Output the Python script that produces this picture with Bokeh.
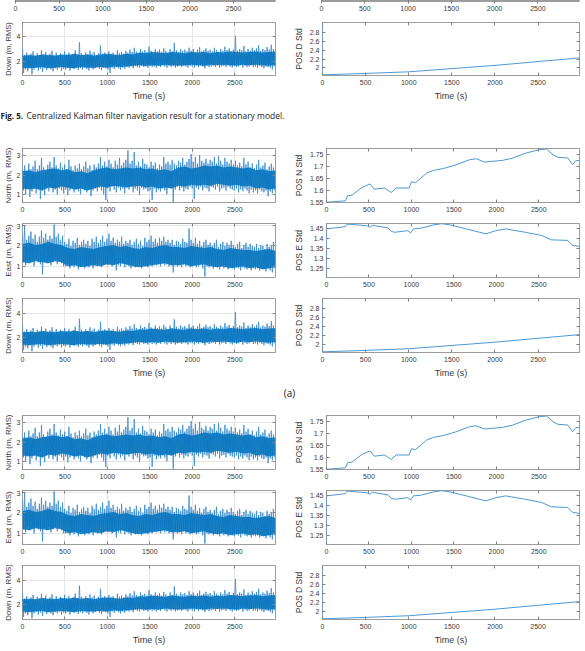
import numpy as np
from bokeh.plotting import figure
from bokeh.layouts import column, row
from bokeh.models import Range1d, FixedTicker, CustomJSTickFormatter, Label, LinearAxis
from bokeh.embed import file_html
from bokeh.resources import INLINE

# ---------------- data ----------------
T_END = 2980
time_ticks = [0, 500, 1000, 1500, 2000, 2500]

# spike extremes (upper / lower) of the 1 Hz RMS noise, read across the time axis
north_hi = [2.35, 2.5, 2.2, 2.6, 2.3, 2.45, 2.75, 2.3, 2.5, 2.9,
            2.4, 2.25, 2.55, 2.7, 2.4, 2.95, 2.5, 2.35, 2.65, 2.4,
            2.55, 2.3, 2.8, 2.45, 2.25, 2.5, 2.35, 2.6, 2.3, 2.45,
            2.7, 2.35, 2.5, 2.25, 2.55, 2.4, 2.6, 2.95, 2.5, 2.7,
            2.45, 2.8, 2.6, 2.4, 2.75, 2.55, 2.9, 2.5, 2.65, 2.8,
            3.3, 2.6, 2.75, 3.2, 2.5, 2.7, 2.45, 2.85, 2.6, 2.55,
            2.4, 2.7, 2.5, 2.65, 2.35, 2.55, 2.45, 2.95, 2.6, 2.7,
            2.55, 2.8, 2.6, 2.5, 2.75, 2.65, 2.9, 2.55, 2.7, 2.85,
            3.1, 2.7, 2.95, 2.6, 3.05, 2.75, 2.65, 2.85, 2.6, 2.8,
            2.7, 2.95, 2.6, 3.0, 2.75, 2.55, 2.9, 2.7, 2.6, 2.8,
            2.55, 2.75, 2.5, 2.65, 2.45, 2.9, 2.55, 2.7, 2.4, 2.6,
            2.35, 2.55, 2.8, 2.4, 2.5, 2.65, 2.3, 2.45, 2.6, 2.4]
north_lo = [1.2, 1.0, 1.3, 0.85, 1.15, 1.3, 1.05, 1.25, 0.75, 1.2,
            0.95, 1.3, 1.15, 1.35, 1.1, 1.25, 1.0, 1.3, 1.2, 1.05,
            1.25, 0.95, 1.2, 1.3, 1.1, 1.25, 1.15, 1.0, 1.3, 1.2,
            1.1, 1.25, 0.9, 1.2, 1.3, 1.15, 1.35, 1.2, 1.0, 0.7,
            1.3, 1.15, 1.4, 1.25, 1.1, 1.35, 1.2, 1.3, 1.05, 1.35,
            1.25, 1.4, 1.1, 1.3, 1.2, 0.95, 1.35, 1.25, 1.3, 1.15,
            1.2, 0.7, 1.3, 1.1, 1.25, 1.15, 1.3, 1.2, 1.0, 1.35,
            1.3, 0.6, 1.25, 1.4, 1.2, 1.35, 1.15, 1.3, 1.25, 1.4,
            1.3, 0.75, 1.35, 1.25, 1.4, 1.2, 1.35, 1.3, 1.15, 1.4,
            1.35, 1.25, 1.4, 1.15, 1.3, 1.35, 1.2, 1.4, 1.3, 1.25,
            1.2, 1.3, 1.1, 1.25, 1.15, 1.3, 1.2, 1.05, 1.25, 1.1,
            1.2, 1.05, 1.25, 1.15, 1.1, 1.2, 0.9, 1.15, 1.05, 1.2]
# dense core band of the same noise (upper / lower edge)
north_core_hi = [2.2, 2.25, 2.15, 2.25, 2.3, 2.35, 2.25, 2.3, 2.15, 2.2,
                 2.1, 2.25, 2.35, 2.4, 2.3, 2.35, 2.4, 2.35, 2.4, 2.3,
                 2.35, 2.25, 2.3, 2.2, 2.4, 2.45, 2.35, 2.4, 2.5, 2.45,
                 2.5, 2.4, 2.45, 2.4, 2.35, 2.4, 2.25, 2.3, 2.2, 2.25]
north_core_lo = [1.3, 1.25, 1.3, 1.2, 1.35, 1.3, 1.4, 1.35, 1.25, 1.3,
                 1.2, 1.3, 1.4, 1.35, 1.45, 1.4, 1.35, 1.4, 1.45, 1.35,
                 1.4, 1.3, 1.35, 1.3, 1.45, 1.4, 1.5, 1.45, 1.5, 1.45,
                 1.55, 1.5, 1.45, 1.5, 1.4, 1.45, 1.3, 1.35, 1.25, 1.3]

east_hi = [2.6, 3.0, 2.3, 2.5, 2.7, 2.35, 2.55, 2.2, 2.45, 2.75,
           2.4, 2.6, 2.3, 2.5, 2.35, 3.05, 2.45, 2.6, 2.3, 2.5,
           2.2, 2.1, 2.35, 2.0, 2.25, 2.15, 2.4, 2.05, 2.2, 2.3,
           2.1, 2.25, 2.0, 2.35, 2.2, 2.45, 2.15, 2.3, 2.5, 2.2,
           2.35, 2.6, 2.25, 2.4, 2.15, 2.3, 2.2, 2.45, 2.1, 2.25,
           2.15, 2.3, 2.05, 2.2, 2.35, 2.1, 2.25, 2.0, 2.4, 2.2,
           2.3, 2.5, 2.2, 2.35, 2.15, 2.4, 2.25, 2.45, 2.2, 2.3,
           2.15, 2.3, 2.05, 2.25, 2.2, 2.1, 2.35, 2.2, 2.15, 2.85,
           2.3, 2.15, 2.4, 2.1, 2.25, 2.0, 2.2, 2.3, 2.05, 2.15,
           2.0, 2.15, 2.3, 1.95, 2.1, 2.2, 2.0, 2.15, 2.05, 2.25,
           2.05, 1.95, 2.1, 2.2, 1.9, 2.05, 2.15, 1.95, 2.1, 2.0,
           1.95, 2.1, 1.9, 2.05, 2.0, 1.85, 2.1, 1.95, 2.05, 2.2]
east_lo = [1.2, 1.05, 1.3, 1.15, 1.25, 1.0, 1.3, 1.2, 1.1, 0.6,
           1.25, 1.15, 1.3, 1.05, 1.2, 1.3, 1.1, 1.25, 1.15, 1.0,
           1.0, 1.1, 0.9, 1.05, 0.95, 1.1, 0.85, 1.0, 1.05, 0.9,
           1.0, 0.95, 1.1, 0.9, 1.05, 1.0, 1.15, 0.95, 1.05, 1.1,
           1.05, 1.15, 1.0, 1.1, 0.8, 1.05, 1.0, 1.15, 0.95, 1.05,
           1.0, 0.9, 1.05, 0.95, 1.0, 1.1, 0.9, 1.05, 1.0, 0.95,
           1.1, 1.0, 1.15, 1.05, 1.1, 1.0, 1.15, 1.05, 1.1, 1.0,
           1.05, 0.7, 1.1, 1.0, 1.05, 0.95, 1.1, 1.0, 1.05, 0.95,
           1.0, 1.05, 0.95, 1.0, 1.1, 0.9, 0.5, 1.0, 0.95, 1.05,
           0.9, 1.0, 0.95, 0.85, 1.0, 0.9, 0.95, 0.85, 1.0, 0.9,
           0.85, 0.95, 0.9, 0.8, 0.95, 0.9, 0.85, 0.95, 0.8, 0.9,
           0.85, 0.9, 0.8, 0.9, 0.85, 0.75, 0.9, 0.8, 0.7, 0.9]
east_core_hi = [2.1, 2.15, 2.05, 2.1, 2.2, 2.1, 2.05, 1.9, 1.85, 1.95,
                1.9, 1.85, 1.95, 2.0, 2.05, 1.95, 2.0, 1.9, 1.85, 1.95,
                1.9, 2.0, 2.05, 1.95, 1.95, 1.9, 2.0, 1.95, 1.9, 1.95,
                1.85, 1.8, 1.9, 1.85, 1.8, 1.8, 1.75, 1.8, 1.85, 1.75]
east_core_lo = [1.2, 1.15, 1.25, 1.2, 1.15, 1.25, 1.2, 1.0, 1.05, 0.95,
                1.0, 1.05, 1.0, 1.1, 1.05, 1.15, 1.1, 1.0, 0.95, 1.0,
                1.05, 1.1, 1.15, 1.05, 1.05, 1.1, 1.0, 1.05, 1.1, 1.0,
                0.95, 1.0, 0.9, 0.95, 1.0, 0.9, 0.95, 0.85, 0.9, 0.95]

down_hi = [3.1, 2.5, 2.7, 2.4, 2.6, 2.8, 2.45, 2.65, 2.5, 2.9,
           2.55, 2.75, 2.4, 2.6, 2.85, 2.5, 2.7, 2.45, 2.65, 2.5,
           2.8, 2.55, 2.7, 2.45, 2.6, 2.9, 2.5, 3.55, 2.65, 2.5,
           2.7, 2.55, 2.85, 2.6, 2.75, 2.5, 2.65, 3.3, 2.6, 2.7,
           2.55, 2.8, 2.6, 2.7, 2.5, 2.9, 2.65, 2.75, 2.6, 2.85,
           2.7, 2.95, 2.75, 3.1, 2.8, 2.65, 3.0, 2.8, 2.9, 2.75,
           3.2, 2.85, 2.7, 3.0, 2.8, 2.95, 2.75, 3.05, 2.85, 2.7,
           3.0, 2.8, 3.5, 2.9, 2.75, 3.0, 2.85, 2.95, 2.8, 3.1,
           2.85, 3.0, 2.75, 2.95, 3.15, 2.8, 2.9, 3.05, 2.85, 2.95,
           2.8, 3.1, 2.9, 2.75, 3.0, 2.85, 3.2, 2.9, 3.05, 2.8,
           2.95, 4.1, 2.85, 3.0, 2.9, 3.25, 2.8, 3.0, 2.85, 3.1,
           2.9, 3.05, 3.3, 2.85, 3.0, 2.9, 3.15, 2.95, 3.35, 3.0]
down_lo = [1.0, 1.3, 1.15, 1.4, 0.9, 1.3, 1.45, 1.2, 1.35, 1.1,
           1.4, 1.25, 1.45, 1.3, 1.15, 1.4, 1.3, 1.45, 1.2, 1.35,
           1.3, 1.45, 1.2, 1.4, 1.35, 1.5, 1.25, 1.4, 1.3, 1.45,
           1.35, 1.2, 1.45, 1.3, 1.4, 1.5, 1.35, 1.25, 1.45, 1.4,
           1.3, 1.0, 1.45, 1.35, 1.5, 1.4, 1.3, 1.45, 1.35, 1.5,
           1.45, 1.55, 1.4, 1.6, 1.5, 1.45, 1.6, 1.5, 1.55, 1.45,
           1.6, 1.5, 1.55, 1.45, 1.6, 1.5, 1.65, 1.55, 1.45, 1.6,
           1.5, 1.6, 1.45, 1.55, 1.65, 1.5, 1.6, 1.55, 1.45, 1.6,
           1.55, 1.45, 1.6, 1.5, 1.65, 1.55, 1.4, 1.6, 1.5, 1.55,
           1.6, 1.5, 1.65, 1.45, 1.55, 1.6, 1.5, 1.65, 1.55, 1.45,
           1.6, 1.5, 1.55, 1.65, 1.45, 1.6, 1.5, 1.55, 1.65, 1.5,
           1.55, 1.45, 1.6, 1.5, 1.4, 1.55, 1.5, 1.45, 1.3, 1.55]
down_core_hi = [2.45, 2.5, 2.45, 2.55, 2.5, 2.45, 2.55, 2.5, 2.6, 2.5,
                2.55, 2.45, 2.55, 2.6, 2.55, 2.5, 2.6, 2.55, 2.7, 2.65,
                2.75, 2.7, 2.65, 2.75, 2.7, 2.65, 2.75, 2.7, 2.75, 2.65,
                2.75, 2.7, 2.8, 2.75, 2.7, 2.75, 2.8, 2.7, 2.75, 2.8]
down_core_lo = [1.45, 1.4, 1.45, 1.5, 1.4, 1.45, 1.5, 1.45, 1.4, 1.5,
                1.45, 1.45, 1.5, 1.45, 1.55, 1.5, 1.55, 1.6, 1.65, 1.6,
                1.65, 1.6, 1.7, 1.65, 1.6, 1.65, 1.7, 1.65, 1.6, 1.7,
                1.65, 1.7, 1.65, 1.6, 1.7, 1.65, 1.7, 1.65, 1.6, 1.65]

posn_t = [0, 223, 250, 300, 416, 512, 562, 685, 762, 820, 974, 1000, 1050,
          1185, 1262, 1378, 1532, 1686, 1763, 1860, 2072, 2187, 2341, 2495,
          2591, 2668, 2726, 2841, 2899, 2938, 2980]
posn_v = [1.550, 1.556, 1.578, 1.580, 1.612, 1.627, 1.605, 1.610, 1.591, 1.610,
          1.610, 1.636, 1.633, 1.674, 1.684, 1.692, 1.708, 1.729, 1.733, 1.719,
          1.726, 1.735, 1.756, 1.770, 1.774, 1.750, 1.739, 1.736, 1.708, 1.725,
          1.726]

pose_t = [0, 0, 223, 242, 473, 512, 539, 724, 762, 801, 955, 993, 1024, 1108,
          1262, 1358, 1455, 1647, 1801, 1878, 1994, 2110, 2341, 2533, 2649,
          2841, 2899, 2980]
pose_v = [1.206, 1.450, 1.461, 1.474, 1.466, 1.458, 1.468, 1.455, 1.438, 1.433,
          1.441, 1.430, 1.450, 1.453, 1.470, 1.476, 1.470, 1.450, 1.433, 1.425,
          1.441, 1.450, 1.433, 1.417, 1.395, 1.392, 1.367, 1.362]

posd_t = [0, 0, 500, 1000, 1500, 2000, 2500, 2980]
posd_v = [3.02, 1.845, 1.876, 1.913, 1.985, 2.057, 2.143, 2.224]

north_ticks = [1, 2, 3]
east_ticks = [1, 2, 3]
down_ticks = [2, 4]
posn_ticks = [1.55, 1.6, 1.65, 1.7, 1.75]
pose_ticks = [1.25, 1.3, 1.35, 1.4, 1.45]
posd_ticks = [2, 2.2, 2.4, 2.6, 2.8]

north_lim = (0.57, 3.39)
east_lim = (0.45, 3.10)
down_lim = (0.80, 5.20)
posn_lim = (1.549, 1.776)
pose_lim = (1.206, 1.477)
posd_lim = (1.83, 3.02)

caption_bold = "Fig. 5."
caption_text = "Centralized Kalman filter navigation result for a stationary model."

# ---------------- style ----------------
FONT = "Liberation Sans"
CAP_FONT = "Open Sans"
BLUE = "#0072BD"
SPIKE = "#3d8ed0"
LBLUE = "#4d98d3"
BOX = "#9c9c9c"
TXT = "#3a3a3a"

LW, RW = 290, 295           # column widths
L_BL, L_BR = 17, 15
R_BL, R_BR = 31, 6


def zigzag(hi, lo):
    n = min(len(hi), len(lo))
    dt = T_END / n
    t = np.arange(n) * dt
    xs = np.column_stack([t, t + dt / 2]).ravel()
    ys = np.column_stack([np.array(hi[:n]), np.array(lo[:n])]).ravel()
    return xs, ys


def band_x(vals):
    return np.arange(len(vals)) * (T_END / (len(vals) - 1))


def style_axis(ax, labels=True):
    ax.major_tick_in = 3
    ax.major_tick_out = 0
    ax.minor_tick_line_color = None
    ax.axis_line_color = None
    ax.major_tick_line_color = "#808080"
    ax.major_tick_line_width = 1
    ax.major_label_text_font = FONT
    ax.major_label_text_font_size = "7px" if labels else "0px"
    ax.major_label_text_color = TXT
    ax.major_label_standoff = 3 if labels else 0
    ax.axis_label_text_font = FONT
    ax.axis_label_text_font_style = "normal"
    ax.axis_label_text_color = TXT


def make_fig(w, h, bl, br, bb, ylim, yticks, ylabel=None, xlabel=None,
             grid=False, yfmt=False, show_y=True, ylabel_size=None):
    p = figure(width=w, height=h, output_backend="svg", toolbar_location=None,
               x_range=Range1d(0, T_END), y_range=Range1d(*ylim),
               min_border_left=bl, min_border_right=br,
               min_border_top=0, min_border_bottom=bb)
    p.outline_line_color = BOX
    p.outline_line_width = 1
    p.background_fill_color = "white"
    p.border_fill_color = "white"
    xt = FixedTicker(ticks=time_ticks)
    yt = FixedTicker(ticks=yticks)
    xa = p.xaxis[0]
    ya = p.yaxis[0]
    xa.ticker = xt
    ya.ticker = yt
    style_axis(xa)
    style_axis(ya)
    xa.major_label_standoff = 4
    ya.major_label_standoff = 2 if not yfmt else 3
    if yfmt:
        ya.formatter = CustomJSTickFormatter(
            code="return String(Math.round(tick*1000)/1000);")
    if ylabel:
        ya.axis_label = ylabel
        ya.axis_label_text_font_size = ylabel_size or ("8px" if not yfmt else "8.5px")
        ya.axis_label_standoff = 1 if not yfmt else 3
    if xlabel:
        xa.axis_label = xlabel
        xa.axis_label_text_font_size = "9px"
        xa.axis_label_standoff = 3
    if not show_y:
        ya.visible = False
    # mirrored ticks on top and right (no labels)
    top = LinearAxis(ticker=xt)
    style_axis(top, labels=False)
    top.major_label_text_alpha = 0
    p.add_layout(top, "above")
    if show_y:
        rt = LinearAxis(ticker=yt)
        style_axis(rt, labels=False)
        rt.major_label_text_alpha = 0
        p.add_layout(rt, "right")
    if grid:
        p.xgrid.ticker = xt
        p.ygrid.ticker = yt
        p.xgrid.grid_line_color = "#e6e6e6"
        p.ygrid.grid_line_color = "#e6e6e6"
        p.xgrid.grid_line_width = 1
        p.ygrid.grid_line_width = 1
    else:
        p.xgrid.visible = False
        p.ygrid.visible = False
    return p


def noise_fig(hi, lo, core_hi, core_lo, h, bb, ylim, yticks, ylabel,
              xlabel=None, bl=L_BL, ylabel_size=None):
    p = make_fig(LW, h, bl, L_BR, bb, ylim, yticks, ylabel=ylabel,
                 xlabel=xlabel, grid=True, ylabel_size=ylabel_size)
    xs, ys = zigzag(hi, lo)
    p.line(xs, ys, line_color=SPIKE, line_width=1.0, line_alpha=0.85)
    bx = band_x(core_hi)
    p.varea(x=bx, y1=core_lo, y2=core_hi, fill_color=BLUE, fill_alpha=0.85)
    return p


def std_fig(t, v, h, bb, ylim, yticks, ylabel, xlabel=None):
    p = make_fig(RW, h, R_BL, R_BR, bb, ylim, yticks, ylabel=ylabel,
                 xlabel=xlabel, yfmt=True)
    p.line(t, v, line_color=LBLUE, line_width=1)
    return p


def text_fig(h, labels):
    p = figure(width=585, height=h, output_backend="svg", toolbar_location=None,
               x_range=Range1d(0, 585), y_range=Range1d(0, h),
               x_axis_location=None, y_axis_location=None, min_border=0)
    p.grid.visible = False
    p.outline_line_color = None
    p.background_fill_color = "white"
    p.border_fill_color = "white"
    for lb in labels:
        p.add_layout(lb)
    return p


# ---------------- top (partial) section ----------------
top_e_left = make_fig(LW, 22, 15, L_BR, 21, east_lim, east_ticks, show_y=False)
top_e_right = make_fig(RW, 22, R_BL, R_BR, 21, pose_lim, pose_ticks, show_y=False)

top_d_left = noise_fig(down_hi, down_lo, down_core_hi, down_core_lo, 82, 29,
                       down_lim, down_ticks, "Down (m, RMS)", xlabel="Time (s)",
                       bl=15, ylabel_size="7.5px")
top_d_right = std_fig(posd_t, posd_v, 82, 29, posd_lim, posd_ticks,
                      "POS D Std", xlabel="Time (s)")

caption = text_fig(44, [
    Label(x=0, y=33, text=caption_bold, text_align="left",
          text_baseline="middle", text_font=CAP_FONT, text_font_style="bold",
          text_font_size="8px", text_color="#222222"),
    Label(x=26, y=33, text=caption_text, text_align="left",
          text_baseline="middle", text_font=CAP_FONT, text_font_size="8.5px",
          text_color="#222222"),
])


def section(last_h):
    n_l = noise_fig(north_hi, north_lo, north_core_hi, north_core_lo, 75, 21,
                    north_lim, north_ticks, "North (m, RMS)")
    n_r = std_fig(posn_t, posn_v, 75, 21, posn_lim, posn_ticks, "POS N Std")
    e_l = noise_fig(east_hi, east_lo, east_core_hi, east_core_lo, 75, 21,
                    east_lim, east_ticks, "East (m, RMS)")
    e_r = std_fig(pose_t, pose_v, 75, 21, pose_lim, pose_ticks, "POS E Std")
    d_l = noise_fig(down_hi, down_lo, down_core_hi, down_core_lo, last_h,
                    last_h - 54, down_lim, down_ticks, "Down (m, RMS)",
                    xlabel="Time (s)")
    d_r = std_fig(posd_t, posd_v, last_h, last_h - 54, posd_lim, posd_ticks,
                  "POS D Std", xlabel="Time (s)")
    return [row(n_l, n_r), row(e_l, e_r), row(d_l, d_r)]


sec_a = section(84)
label_a = text_fig(33, [
    Label(x=289, y=23, text="(a)", text_align="center", text_baseline="middle",
          text_font=CAP_FONT, text_font_size="10px", text_color="#222222"),
])
sec_b = section(86)

layout = column(
    row(top_e_left, top_e_right),
    row(top_d_left, top_d_right),
    caption,
    *sec_a,
    label_a,
    *sec_b,
)

open("out.html", "w").write(file_html(layout, INLINE))
